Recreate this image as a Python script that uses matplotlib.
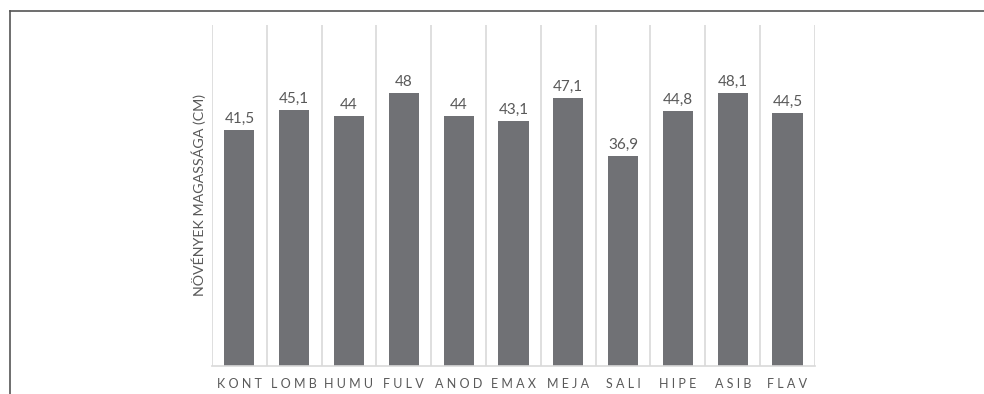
import numpy as np
import matplotlib
matplotlib.use("Agg")
import matplotlib.pyplot as plt
from matplotlib.lines import Line2D

categories = ["KONT", "LOMB", "HUMU", "FULV", "ANOD", "EMAX", "MEJA", "SALI", "HIPE", "ASIB", "FLAV"]
values = [41.5, 45.1, 44, 48, 44, 43.1, 47.1, 36.9, 44.8, 48.1, 44.5]
value_labels = ["41,5", "45,1", "44", "48", "44", "43,1", "47,1", "36,9", "44,8", "48,1", "44,5"]
ylabel = "NÖVÉNYEK MAGASSÁGA (CM)"

plt.rcParams['font.family'] = ['Lato', 'DejaVu Sans']

fig = plt.figure(figsize=(9.84, 3.94), dpi=100)
ax = fig.add_axes([0.2154, 0.0711, 0.6128, 0.8655])

x = np.arange(len(categories))
bars = ax.bar(x, values, width=0.55, color='#707175', zorder=2)

ax.set_xlim(-0.5, len(categories) - 0.5)
ax.set_ylim(0, 60)

# category separators
for b in np.arange(-0.5, len(categories), 1.0):
    ax.axvline(b, color='#d9d9d9', linewidth=1.2, zorder=1)

for rect, lab in zip(bars, value_labels):
    ax.annotate(lab, (rect.get_x() + rect.get_width() / 2, rect.get_height()),
                xytext=(0, 3), textcoords='offset points', ha='center', va='bottom',
                fontsize=11, color='#595959')

ax.set_xticks(x)
ax.set_xticklabels(["\u2009\u2009".join(c) for c in categories], fontsize=9, color='#595959')
ax.tick_params(axis='x', length=0, pad=9)
ax.set_yticks([])

for s in ['top', 'right', 'left']:
    ax.spines[s].set_visible(False)
ax.spines['bottom'].set_color('#d9d9d9')
ax.spines['bottom'].set_linewidth(1.2)

ax.set_ylabel(ylabel, fontsize=10.3, color='#595959', labelpad=4)

# outer frame (left and top edges visible)
fig.add_artist(Line2D([9.5 / 984, 9.5 / 984], [0, 1 - 11 / 394], color='#555555', linewidth=1.2))
fig.add_artist(Line2D([9.5 / 984, 1], [1 - 11 / 394, 1 - 11 / 394], color='#555555', linewidth=1.2))

fig.savefig("out.png", dpi=100)
